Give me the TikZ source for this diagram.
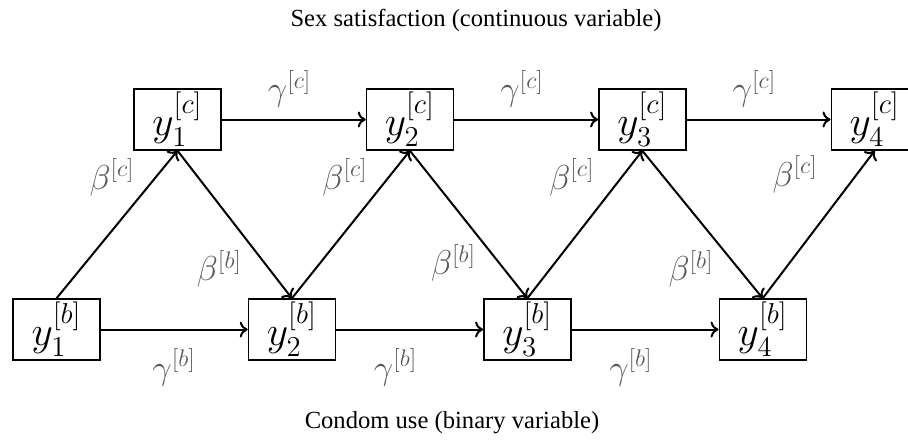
\documentclass[tikz,border=0pt]{standalone}
\usepackage{amsmath,amssymb}
\usepackage{fontspec}
\setmainfont{Liberation Serif}
\usepackage{tikz}
\usetikzlibrary{arrows.meta,positioning}

\begin{document}
\begin{tikzpicture}[
  x=0.5pt,y=0.5pt,
  var/.style={rectangle,draw,line width=0.7pt,minimum width=43.5pt,minimum height=30.5pt,inner sep=0pt,font=\fontsize{22}{24}\selectfont},
  lbl/.style={font=\LARGE,text=black!65,inner sep=1pt},
  ttl/.style={font=\fontsize{12.3}{14}\selectfont,inner sep=0pt},
  arr/.style={-{To[length=4pt,width=8pt]},line width=1pt}
]
\useasboundingbox (0,0) rectangle (908,441);
\node[ttl] (top) at (476,421) {Sex satisfaction (continuous variable)};
\node[ttl] (bot) at (452,18) {Condom use (binary variable)};
\node[var] (b1) at (56.5,111.5) {$y_1^{[b]}$};
\node[var,right=73.5pt of b1] (b2) {$y_2^{[b]}$};
\node[var,right=73.5pt of b2] (b3) {$y_3^{[b]}$};
\node[var,right=73.5pt of b3] (b4) {$y_4^{[b]}$};
\node[var] (c1) at (177.5,321.5) {$y_1^{[c]}$};
\node[var,right=72pt of c1] (c2) {$y_2^{[c]}$};
\node[var,right=72pt of c2] (c3) {$y_3^{[c]}$};
\node[var,right=72pt of c3] (c4) {$y_4^{[c]}$};
\draw[arr] (c1) -- node[lbl,above=4.5pt,xshift=-2pt] {$\gamma^{[c]}$} (c2);
\draw[arr] (c2) -- node[lbl,above=4.5pt,xshift=-2pt] {$\gamma^{[c]}$} (c3);
\draw[arr] (c3) -- node[lbl,above=4.5pt,xshift=-2pt] {$\gamma^{[c]}$} (c4);
\draw[arr] (b1) -- node[lbl,below=8pt] {$\gamma^{[b]}$} (b2);
\draw[arr] (b2) -- node[lbl,below=8pt,xshift=-7pt] {$\gamma^{[b]}$} (b3);
\draw[arr] (b3) -- node[lbl,below=8pt,xshift=-7pt] {$\gamma^{[b]}$} (b4);
\draw[arr] (b1.north) -- node[lbl,pos=0.82,left=9pt] {$\beta^{[c]}$} (c1.south);
\draw[arr] (b2.north) -- node[lbl,pos=0.82,left=9pt] {$\beta^{[c]}$} (c2.south);
\draw[arr] (b3.north) -- node[lbl,pos=0.82,left=12pt] {$\beta^{[c]}$} (c3.south);
\draw[arr] (b4.north) -- node[lbl,pos=0.84,left=18pt] {$\beta^{[c]}$} (c4.south);
\draw[arr] (c1.south) -- node[lbl,pos=0.8,left=12pt] {$\beta^{[b]}$} (b2.north);
\draw[arr] (c2.south) -- node[lbl,pos=0.76,left=10pt] {$\beta^{[b]}$} (b3.north);
\draw[arr] (c3.south) -- node[lbl,pos=0.8,left=11pt] {$\beta^{[b]}$} (b4.north);
\end{tikzpicture}
\end{document}
